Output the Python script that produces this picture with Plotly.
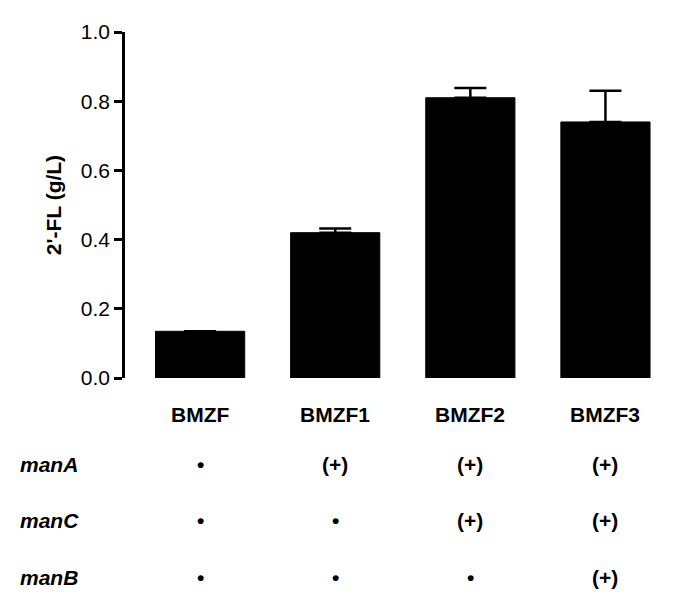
import plotly.graph_objects as go

strains = ["BMZF", "BMZF1", "BMZF2", "BMZF3"]
titer = [0.135, 0.42, 0.81, 0.74]
err_up = [0.0, 0.012, 0.028, 0.09]
genes = ["manA", "manC", "manB"]
marks = [
    ["•", "(+)", "(+)", "(+)"],
    ["•", "•", "(+)", "(+)"],
    ["•", "•", "•", "(+)"],
]

font = "Liberation Sans"
fs = 21
xs = list(range(len(strains)))

fig = go.Figure(go.Bar(
    x=xs, y=titer, width=0.66,
    marker=dict(color="black", line=dict(color="black", width=1)),
    error_y=dict(type="data", symmetric=False, array=err_up, arrayminus=[0] * 4,
                 color="black", thickness=2.5, width=16),
))

# strain labels under the bars
for x, s in zip(xs, strains):
    fig.add_annotation(x=x, y=-0.145, xref="x", yref="paper", text=f"<b>{s}</b>",
                       showarrow=False, font=dict(size=fs, color="black", family=font))

# gene table
row_y = [-0.288, -0.45, -0.615]
for g, ry, row in zip(genes, row_y, marks):
    fig.add_annotation(x=-0.195, y=ry, xref="paper", yref="paper", text=f"<b><i>{g}</i></b>",
                       xanchor="left", showarrow=False,
                       font=dict(size=fs, color="black", family=font))
    for x, m in zip(xs, row):
        fig.add_annotation(x=x, y=ry, xref="x", yref="paper", text=f"<b>{m}</b>",
                           showarrow=False, font=dict(size=fs, color="black", family=font))

fig.update_layout(
    width=685, height=610,
    margin=dict(l=117, r=20, t=12, b=240),
    plot_bgcolor="white", paper_bgcolor="white",
    showlegend=False,
    xaxis=dict(range=[-0.556, 3.5], showticklabels=False, showline=False,
               showgrid=False, zeroline=False, ticks=""),
    yaxis=dict(range=[0, 1.0], dtick=0.2, tickformat=".1f", showline=True,
               linecolor="black", linewidth=2.5, ticks="outside", ticklen=8,
               tickwidth=2.5, tickcolor="black", showgrid=False, zeroline=False,
               tickfont=dict(size=fs, color="black", family=font),
               title=dict(text="<b>2'-FL (g/L)</b>", standoff=14,
                          font=dict(size=fs, color="black", family=font))),
    font=dict(family=font, color="black"),
)

fig.write_html("out.html")
